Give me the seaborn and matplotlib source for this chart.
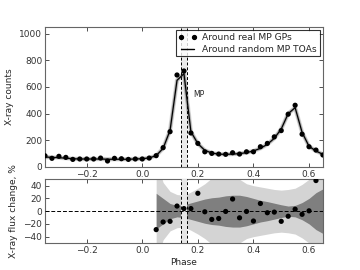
import numpy as np
import pandas as pd
import seaborn as sns
import matplotlib
matplotlib.use("Agg")
import matplotlib.pyplot as plt
from matplotlib.lines import Line2D

# Phase bins (step 0.025)
phase = np.round(np.arange(-0.35, 0.6501, 0.025), 3)

# Counts around real MP GPs (points)
counts_gp = [84, 65, 80, 72, 57, 60, 60, 60, 67, 45, 65, 62, 57, 60, 60, 67,
             85, 145, 265, 690, 720, 255, 177, 114, 102, 97, 95, 107, 97, 114,
             114, 152, 177, 226, 273, 396, 463, 246, 152, 127, 90]

# Counts around random MP TOAs (line)
counts_rand = [75, 72, 70, 66, 62, 60, 60, 60, 60, 58, 58, 58, 58, 60, 62, 68,
               85, 140, 275, 650, 700, 265, 175, 125, 105, 96, 95, 97, 100, 108,
               120, 140, 170, 215, 285, 400, 445, 260, 155, 120, 95]

# Flux change (%) and confidence bands, from phase 0.05 on
phase_b = np.round(np.arange(0.05, 0.6501, 0.025), 3)
flux_change = [-29, -17, -16, 8, 4, 4, 28, -1, -13, -11.5, -0.5, 19, -10.5, -0.5,
               -15.5, 12, -2.5, -1.5, -16, -8, 3, -5, 0.5, 48]
band1 = [28, 20, 12, 9, 10, 13, 16, 19, 21, 22, 24, 25, 25, 23, 20, 17, 15,
         12.5, 10, 8, 9, 13.5, 20, 29, 35]
band2 = [80, 45, 31, 26, 25, 30, 36, 43, 52, 60, 62, 58, 50, 43, 40, 38, 36,
         34, 33, 34, 36, 42, 50, 58, 65]

mp_window = (0.14, 0.16)

top = pd.DataFrame({"phase": phase, "gp": counts_gp, "rand": counts_rand})
bot = pd.DataFrame({"phase": phase_b[:len(flux_change)], "flux": flux_change})

sns.set_style("ticks")
plt.rcParams["font.family"] = ["DejaVu Sans"]
plt.rcParams["font.size"] = 6.5

fig = plt.figure(figsize=(3.6, 2.7), dpi=100)
ax1 = fig.add_axes([0.125, 0.3815, 0.772, 0.5185])
ax2 = fig.add_axes([0.125, 0.10, 0.772, 0.236])

# --- top panel
ax1.axvspan(*mp_window, color="#ebebeb", lw=0, zorder=0)
for w, a in [(3.2, 0.12), (2.2, 0.22)]:
    ax1.plot(top["phase"], top["rand"], color="black", lw=w, alpha=a, zorder=1)
sns.lineplot(data=top, x="phase", y="rand", color="black", lw=0.9, ax=ax1, zorder=2)
sns.scatterplot(data=top, x="phase", y="gp", color="black", s=14, edgecolor="none",
                ax=ax1, zorder=3)
for xv in mp_window:
    ax1.axvline(xv, color="black", ls="--", lw=0.7, dashes=(3, 2), zorder=2)
ax1.text(0.182, 545, "MP", fontsize=5.5, va="center", ha="left")
ax1.set_xlim(-0.35, 0.65)
ax1.set_ylim(0, 1050)
ax1.set_yticks([0, 200, 400, 600, 800, 1000])
ax1.set_xticks([-0.2, 0.0, 0.2, 0.4, 0.6])
ax1.set_xlabel("")
ax1.set_ylabel("X-ray counts", fontsize=6.5)

handles = [Line2D([0], [0], marker="o", ls="none", color="black", markersize=2.8),
           Line2D([0], [0], color="black", lw=1)]
leg = ax1.legend(handles, ["Around real MP GPs", "Around random MP TOAs"],
                 loc="upper right", fontsize=6.6, numpoints=2, frameon=True,
                 fancybox=False, borderpad=0.3, handlelength=2.0,
                 borderaxespad=0.35, labelspacing=0.3, handletextpad=0.6)
leg.get_frame().set_edgecolor("black")
leg.get_frame().set_linewidth(0.8)

# --- bottom panel
ax2.fill_between(phase_b, [-v for v in band2], band2, color="#d4d4d4", lw=0, zorder=1)
ax2.fill_between(phase_b, [-v for v in band1], band1, color="#7f7f7f", lw=0, zorder=2)
ax2.axvspan(*mp_window, color="#e6e6e6", lw=0, zorder=3)
ax2.axhline(0, color="black", ls="--", lw=0.7, dashes=(4, 2), zorder=4)
for xv in mp_window:
    ax2.axvline(xv, color="black", ls="--", lw=0.7, dashes=(3, 2), zorder=4)
sns.scatterplot(data=bot, x="phase", y="flux", color="black", s=14, edgecolor="none",
                ax=ax2, zorder=5, clip_on=True)
ax2.set_xlim(-0.35, 0.65)
ax2.set_ylim(-50, 50)
ax2.set_yticks([-40, -20, 0, 20, 40])
ax2.set_xticks([-0.2, 0.0, 0.2, 0.4, 0.6])
ax2.set_xlabel("Phase", fontsize=6.5, labelpad=2)
ax2.set_ylabel("X-ray flux change, %", fontsize=6.5)

for ax in (ax1, ax2):
    ax.tick_params(direction="in", length=3, width=0.6, labelsize=6.5,
                   top=True, right=True, pad=2, colors="#333333")
    for sp in ax.spines.values():
        sp.set_visible(True)
        sp.set_color("#666666")
        sp.set_linewidth(0.8)

fig.align_ylabels([ax1, ax2])
fig.savefig("out.png", dpi=100)
